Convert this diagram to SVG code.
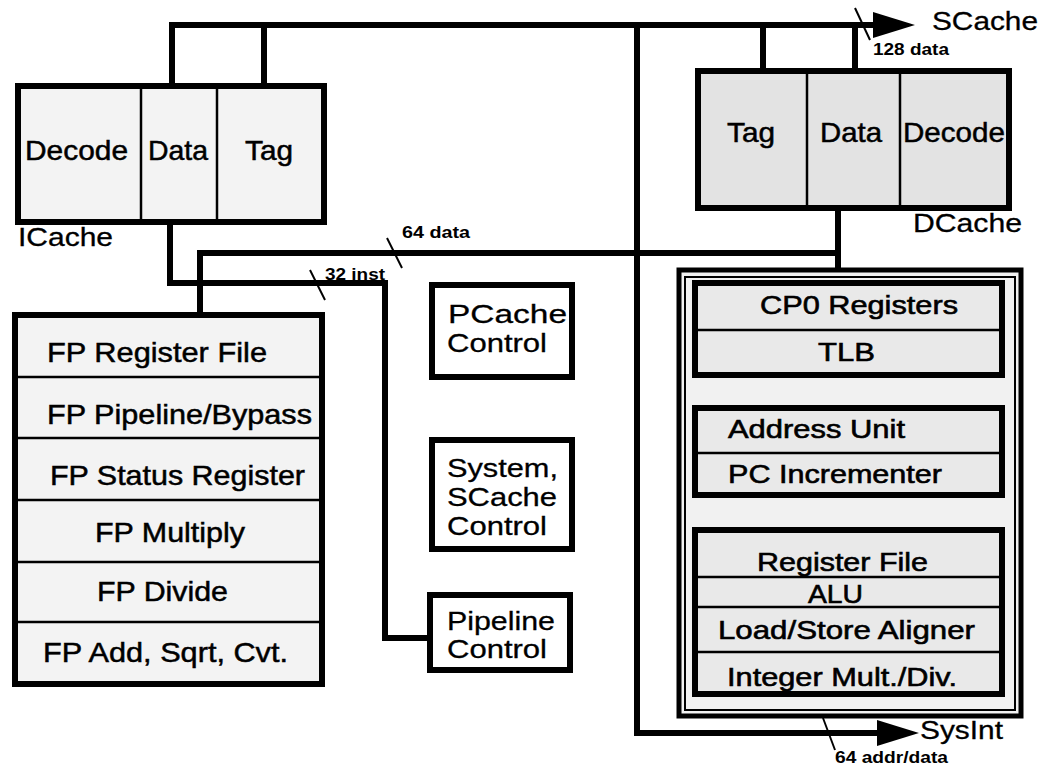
<svg xmlns="http://www.w3.org/2000/svg" width="1043" height="765" viewBox="0 0 1043 765">
<defs>
<style>
text{font-family:"Liberation Sans",Arial,sans-serif;fill:#000}
.box{stroke:#000;stroke-width:6;fill:#f3f3f3}
.dbox{stroke:#000;stroke-width:6;fill:#e3e3e3}
.wbox{stroke:#000;stroke-width:6;fill:#fff}
.ibox{stroke:#000;stroke-width:6;fill:#e9e9e9}
.div{stroke:#000;stroke-width:2.5}
.wire{stroke:#000;stroke-width:6;fill:none}
.tick{stroke:#000;stroke-width:2;fill:none}
.big{font-size:28px;stroke:#000;stroke-width:0.5}
.mid{font-size:26px;stroke:#000;stroke-width:0.3}
.cpu{font-size:26px;stroke:#000;stroke-width:0.6}
.lbl{font-size:26px;stroke:#000;stroke-width:0.3}
.sm{font-size:16px;font-weight:bold}
</style>
</defs>
<rect width="1043" height="765" fill="#fff"/>

<g id="connectors">
<polyline class="wire" points="172,86 172,25 875,25"/>
<line class="wire" x1="264" y1="25" x2="264" y2="86"/>
<line class="wire" x1="763" y1="25" x2="763" y2="70"/>
<line class="wire" x1="855" y1="25" x2="855" y2="70"/>
<polygon points="873,12 915,25 873,38" fill="#000"/>
<polyline class="wire" points="637,25 637,733 880,733"/>
<polygon points="877,720 919,733 877,746" fill="#000"/>
<polyline class="wire" points="170,222 170,283 385,283 385,638 430,638"/>
<polyline class="wire" points="200,315 200,253 838,253"/>
<line class="wire" x1="838" y1="208" x2="838" y2="283"/>
<line class="tick" x1="387" y1="238" x2="402" y2="268"/>
<line class="tick" x1="310" y1="270" x2="325" y2="300"/>
<line class="tick" x1="855" y1="8" x2="870" y2="40"/>
<line class="tick" x1="823" y1="718" x2="835" y2="750"/>
<text class="sm" x="402" y="238" textLength="68" lengthAdjust="spacingAndGlyphs">64 data</text>
<text class="sm" x="325" y="280" textLength="60" lengthAdjust="spacingAndGlyphs">32 inst</text>
<text class="sm" x="873" y="55" textLength="76" lengthAdjust="spacingAndGlyphs">128 data</text>
<text class="sm" x="835" y="763" textLength="113" lengthAdjust="spacingAndGlyphs">64 addr/data</text>
<text class="lbl" x="932" y="30" textLength="106" lengthAdjust="spacingAndGlyphs">SCache</text>
<text class="lbl" x="920" y="739" textLength="83" lengthAdjust="spacingAndGlyphs">SysInt</text>
</g>

<g id="icache">
<rect class="box" x="18" y="86" width="306" height="136"/>
<line class="div" x1="141" y1="86" x2="141" y2="222"/>
<line class="div" x1="217" y1="86" x2="217" y2="222"/>
<text class="big" x="25" y="160" textLength="103" lengthAdjust="spacingAndGlyphs">Decode</text>
<text class="big" x="148" y="160" textLength="60" lengthAdjust="spacingAndGlyphs">Data</text>
<text class="big" x="245" y="160" textLength="48" lengthAdjust="spacingAndGlyphs">Tag</text>
<text class="lbl" x="18" y="246" textLength="95" lengthAdjust="spacingAndGlyphs">ICache</text>
</g>

<g id="dcache">
<rect class="dbox" x="698" y="71" width="311" height="137"/>
<line class="div" x1="807" y1="71" x2="807" y2="208"/>
<line class="div" x1="900" y1="71" x2="900" y2="208"/>
<text class="big" x="727" y="142" textLength="48" lengthAdjust="spacingAndGlyphs">Tag</text>
<text class="big" x="820" y="142" textLength="62" lengthAdjust="spacingAndGlyphs">Data</text>
<text class="big" x="903" y="142" textLength="102" lengthAdjust="spacingAndGlyphs">Decode</text>
<text class="lbl" x="913" y="232" textLength="109" lengthAdjust="spacingAndGlyphs">DCache</text>
</g>

<g id="fpu">
<rect class="box" x="15" y="315" width="307" height="369"/>
<line class="div" x1="15" y1="377" x2="322" y2="377"/>
<line class="div" x1="15" y1="438" x2="322" y2="438"/>
<line class="div" x1="15" y1="500" x2="322" y2="500"/>
<line class="div" x1="15" y1="562" x2="322" y2="562"/>
<line class="div" x1="15" y1="622" x2="322" y2="622"/>
<text class="big" x="47" y="362" textLength="220" lengthAdjust="spacingAndGlyphs">FP Register File</text>
<text class="big" x="47" y="424" textLength="265" lengthAdjust="spacingAndGlyphs">FP Pipeline/Bypass</text>
<text class="big" x="50" y="485" textLength="255" lengthAdjust="spacingAndGlyphs">FP Status Register</text>
<text class="big" x="95" y="542" textLength="150" lengthAdjust="spacingAndGlyphs">FP Multiply</text>
<text class="big" x="97" y="601" textLength="131" lengthAdjust="spacingAndGlyphs">FP Divide</text>
<text class="big" x="43" y="662" textLength="245" lengthAdjust="spacingAndGlyphs">FP Add, Sqrt, Cvt.</text>
</g>

<g id="pcache-control">
<rect class="wbox" x="432" y="285" width="140" height="92"/>
<text class="mid" x="448" y="323" textLength="119" lengthAdjust="spacingAndGlyphs">PCache</text>
<text class="mid" x="447" y="352" textLength="100" lengthAdjust="spacingAndGlyphs">Control</text>
</g>

<g id="system-control">
<rect class="wbox" x="432" y="440" width="140" height="109"/>
<text class="mid" x="447" y="477" textLength="111" lengthAdjust="spacingAndGlyphs">System,</text>
<text class="mid" x="447" y="506" textLength="110" lengthAdjust="spacingAndGlyphs">SCache</text>
<text class="mid" x="447" y="535" textLength="100" lengthAdjust="spacingAndGlyphs">Control</text>
</g>

<g id="pipeline-control">
<rect class="wbox" x="430" y="595" width="140" height="75"/>
<text class="mid" x="447" y="630" textLength="108" lengthAdjust="spacingAndGlyphs">Pipeline</text>
<text class="mid" x="447" y="658" textLength="100" lengthAdjust="spacingAndGlyphs">Control</text>
</g>

<g id="cpu">
<rect x="679" y="270" width="342" height="446" fill="#f1f1f1" stroke="#000" stroke-width="5"/>
<rect x="685" y="277" width="330" height="433" fill="none" stroke="#000" stroke-width="2"/>
</g>

<g id="cp0">
<rect class="ibox" x="695" y="283" width="307" height="92"/>
<line class="div" x1="695" y1="330" x2="1002" y2="330"/>
<text class="cpu" x="760" y="314" textLength="198" lengthAdjust="spacingAndGlyphs">CP0 Registers</text>
<text class="cpu" x="818" y="361" textLength="57" lengthAdjust="spacingAndGlyphs">TLB</text>
</g>

<g id="address">
<rect class="ibox" x="695" y="408" width="307" height="87"/>
<line class="div" x1="695" y1="453" x2="1002" y2="453"/>
<text class="cpu" x="728" y="438" textLength="177" lengthAdjust="spacingAndGlyphs">Address Unit</text>
<text class="cpu" x="728" y="483" textLength="214" lengthAdjust="spacingAndGlyphs">PC Incrementer</text>
</g>

<g id="integer">
<rect class="ibox" x="695" y="530" width="307" height="164"/>
<line class="div" x1="695" y1="577" x2="1002" y2="577"/>
<line class="div" x1="695" y1="607" x2="1002" y2="607"/>
<line class="div" x1="695" y1="652" x2="1002" y2="652"/>
<text class="cpu" x="757" y="571" textLength="171" lengthAdjust="spacingAndGlyphs">Register File</text>
<text class="cpu" x="808" y="603" textLength="55" lengthAdjust="spacingAndGlyphs">ALU</text>
<text class="cpu" x="718" y="639" textLength="257" lengthAdjust="spacingAndGlyphs">Load/Store Aligner</text>
<text class="cpu" x="727" y="686" textLength="230" lengthAdjust="spacingAndGlyphs">Integer Mult./Div.</text>
</g>
</svg>
